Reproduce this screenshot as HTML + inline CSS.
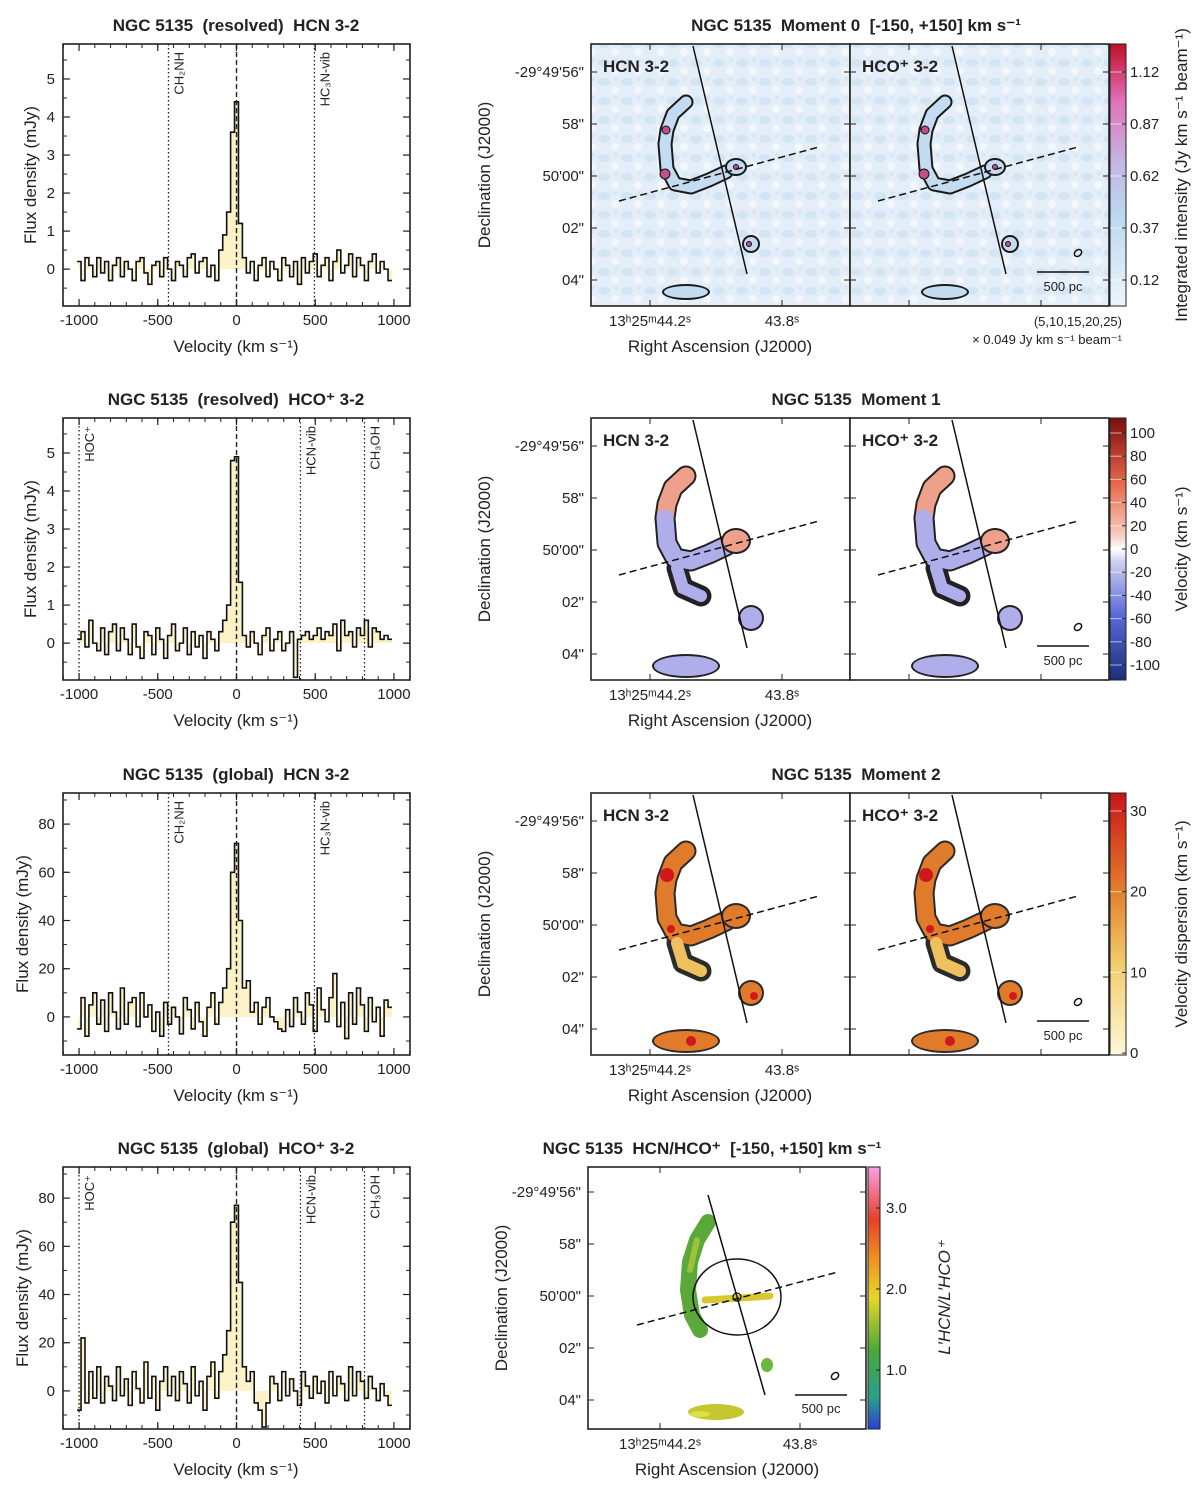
<!DOCTYPE html>
<html><head><meta charset="utf-8">
<style>
body{margin:0;background:#fff;}
svg text{font-family:"Liberation Sans",sans-serif;fill:#222;white-space:pre;}
</style></head>
<body>
<svg id="fig" width="1200" height="1482" xmlns="http://www.w3.org/2000/svg">
<defs>
<linearGradient id="gMom0" x1="0" y1="1" x2="0" y2="0">
<stop offset="0" stop-color="#eef5fb"/><stop offset="0.35" stop-color="#b9d8f0"/><stop offset="0.55" stop-color="#c4b5e6"/><stop offset="0.78" stop-color="#e073b8"/><stop offset="1" stop-color="#c0102a"/></linearGradient>
<linearGradient id="gMom1" x1="0" y1="1" x2="0" y2="0">
<stop offset="0" stop-color="#1a2f7a"/><stop offset="0.25" stop-color="#5a6bd8"/><stop offset="0.45" stop-color="#cfcdf1"/><stop offset="0.5" stop-color="#ffffff"/><stop offset="0.55" stop-color="#f6cfc3"/><stop offset="0.75" stop-color="#e8684a"/><stop offset="1" stop-color="#7a0d0d"/></linearGradient>
<linearGradient id="gMom2" x1="0" y1="1" x2="0" y2="0">
<stop offset="0" stop-color="#fdf8d8"/><stop offset="0.35" stop-color="#f2cc6c"/><stop offset="0.65" stop-color="#e2782a"/><stop offset="1" stop-color="#c8141a"/></linearGradient>
<linearGradient id="gRat" x1="0" y1="1" x2="0" y2="0">
<stop offset="0" stop-color="#2a3fd6"/><stop offset="0.12" stop-color="#2a9f8a"/><stop offset="0.3" stop-color="#4aa83a"/><stop offset="0.5" stop-color="#e6d62a"/><stop offset="0.65" stop-color="#f09020"/><stop offset="0.8" stop-color="#e8402a"/><stop offset="1" stop-color="#f7a0e0"/></linearGradient>
<pattern id="speck" width="23" height="19" patternUnits="userSpaceOnUse"><rect width="23" height="19" fill="#e4eef8"/><ellipse cx="6" cy="6" rx="6" ry="4" fill="#d3e4f3"/><circle cx="17" cy="14" r="4" fill="#f2f7fc"/><circle cx="18" cy="3" r="2" fill="#d8e7f5"/></pattern>
</defs>
</svg>
<script>
// ---------------- spectra data ----------------
const velStart = -1000, velStep = 25;
const specHCNres = [0.2,-0.3,0.3,0.1,-0.2,0.3,-0.1,0.2,-0.3,0.1,0.3,-0.2,0.2,0.0,-0.3,0.2,0.3,-0.1,-0.4,0.1,0.2,-0.2,0.3,0.0,-0.3,0.2,0.1,-0.2,0.3,0.4,-0.1,0.2,0.3,-0.2,0.1,-0.3,0.5,0.9,1.5,3.6,4.4,1.2,0.3,-0.1,0.2,-0.3,0.1,0.3,-0.2,0.2,0.0,-0.3,0.3,0.1,-0.2,0.2,-0.4,0.3,-0.1,0.2,0.4,-0.2,0.1,0.3,-0.3,0.2,0.5,-0.1,0.1,0.4,-0.2,0.3,0.1,-0.3,0.2,0.4,-0.1,0.2,0.0,-0.3];
const specHCOres = [0.1,0.3,-0.1,0.6,0.0,-0.2,0.4,-0.3,0.3,0.5,-0.2,0.4,0.1,-0.3,0.5,-0.1,-0.4,0.3,0.2,-0.3,0.4,0.1,-0.4,0.2,0.5,-0.2,0.0,0.4,-0.3,0.3,-0.1,0.2,-0.4,0.3,0.1,-0.2,0.3,0.6,1.0,4.8,4.9,1.6,0.2,-0.1,0.3,0.0,-0.3,0.2,0.4,-0.2,0.1,0.3,-0.2,0.0,0.3,-0.9,0.1,0.2,0.3,0.1,0.2,0.4,0.1,0.3,0.2,0.5,-0.2,0.6,0.2,0.3,-0.1,0.4,0.2,0.6,-0.1,0.4,0.3,0.1,0.2,0.1];
const specHCNglob = [-5,8,-8,5,10,-3,7,-6,10,2,-5,12,-3,6,8,-4,10,0,5,-6,2,-8,6,-3,4,0,-7,8,3,-5,6,-2,-8,4,10,-3,6,12,20,60,72,40,12,15,2,6,-3,4,8,0,-2,-5,-6,3,-4,8,2,-3,10,5,-6,12,3,-2,8,18,-4,6,-9,10,-3,12,5,-6,8,-2,4,-8,7,4];
const specHCOglob = [-8,22,-5,8,-3,10,-5,6,2,-4,10,-2,5,-6,8,1,-5,12,-3,6,-8,4,10,-2,6,-4,8,3,-5,10,-2,4,-8,6,12,-3,8,15,25,70,77,45,10,4,8,-5,-8,-15,-5,6,3,-4,8,-2,5,0,-6,8,2,-3,6,-1,4,-5,8,-2,6,3,-4,10,-2,8,4,-3,6,1,-4,3,-2,-6];
const spectra = [
 {title:"NGC 5135  (resolved)  HCN 3-2", top:44, ymin:-0.97, ymax:5.92, yticks:[0,1,2,3,4,5], minor:0.5, vals:specHCNres, lines:[[-432,"CH₂NH"],[495,"HC₃N-vib"]]},
 {title:"NGC 5135  (resolved)  HCO⁺ 3-2", top:418, ymin:-0.97, ymax:5.92, yticks:[0,1,2,3,4,5], minor:0.5, vals:specHCOres, lines:[[-1000,"HOC⁺"],[406,"HCN-vib"],[813,"CH₃OH"]]},
 {title:"NGC 5135  (global)  HCN 3-2", top:793, ymin:-15.8, ymax:92.9, yticks:[0,20,40,60,80], minor:10, vals:specHCNglob, lines:[[-432,"CH₂NH"],[495,"HC₃N-vib"]]},
 {title:"NGC 5135  (global)  HCO⁺ 3-2", top:1167, ymin:-15.8, ymax:92.9, yticks:[0,20,40,60,80], minor:10, vals:specHCOglob, lines:[[-1000,"HOC⁺"],[406,"HCN-vib"],[813,"CH₃OH"]]}
];
const xticksVel = [-1000,-500,0,500,1000];

const NS="http://www.w3.org/2000/svg";
const fig=document.getElementById('fig');
function el(tag,attrs,parent){const e=document.createElementNS(NS,tag);for(const k in attrs)e.setAttribute(k,attrs[k]);(parent||fig).appendChild(e);return e;}
function txt(s,x,y,attrs,parent){const t=el('text',Object.assign({x:x,y:y},attrs||{}),parent);t.textContent=s;return t;}

spectra.forEach((sp,i)=>{
  const g=el('g',{});
  
  
  const L=63,R=410,T=sp.top,B=sp.top+262;
  const xs=v=>L+(v+1102)/2204*(R-L);
  const ys=f=>B-(f-sp.ymin)/(sp.ymax-sp.ymin)*(B-T);
  let d='M'+xs(velStart)+','+ys(0);
  let line='';
  sp.vals.forEach((f,k)=>{const v0=velStart+k*velStep-velStep/2,v1=v0+velStep;
    d+=' L'+xs(v0)+','+ys(f)+' L'+xs(v1)+','+ys(f);
    line+=(k?' L':'M')+xs(v0)+','+ys(f)+' L'+xs(v1)+','+ys(f);});
  d+=' L'+xs(velStart+(sp.vals.length-0.5)*velStep)+','+ys(0)+' Z';
  const fp=el('path',{d:d,fill:'#fbf2c8',stroke:'none'},g);
  
  
  const lp=el('path',{d:line,fill:'none',stroke:'#111','stroke-width':1.6},g);
  
  
  el('line',{x1:xs(0),x2:xs(0),y1:T,y2:B,stroke:'#222','stroke-width':1.4,'stroke-dasharray':'5,3'},g);
  sp.lines.forEach(([v,lab])=>{
    const ln=el('line',{x1:xs(v),x2:xs(v),y1:T,y2:B,stroke:'#222','stroke-width':1.3,'stroke-dasharray':'1.5,2.5'},g);
    
    
    const t=txt(lab,xs(v)+15,T+8,{'font-size':13,transform:'rotate(-90 '+(xs(v)+15)+' '+(T+8)+')','text-anchor':'end'},g);
    
    
  });
  el('rect',{x:L,y:T,width:R-L,height:B-T,fill:'none',stroke:'#222','stroke-width':1.6},g);
  xticksVel.forEach(v=>{el('line',{x1:xs(v),x2:xs(v),y1:B,y2:B-7,stroke:'#222','stroke-width':1.2},g);
    el('line',{x1:xs(v),x2:xs(v),y1:T,y2:T+7,stroke:'#222','stroke-width':1.2},g);
    txt(v,xs(v),B+19,{'font-size':15,'text-anchor':'middle'},g);});
  for(let v=-1100;v<=1100;v+=100){el('line',{x1:xs(v),x2:xs(v),y1:B,y2:B-4,stroke:'#222'},g);el('line',{x1:xs(v),x2:xs(v),y1:T,y2:T+4,stroke:'#222'},g);}
  sp.yticks.forEach(f=>{el('line',{x1:L,x2:L+7,y1:ys(f),y2:ys(f),stroke:'#222','stroke-width':1.2},g);
    el('line',{x1:R,x2:R-7,y1:ys(f),y2:ys(f),stroke:'#222','stroke-width':1.2},g);
    txt(f,L-8,ys(f)+5,{'font-size':15,'text-anchor':'end'},g);});
  for(let f=Math.ceil(sp.ymin/sp.minor)*sp.minor;f<=sp.ymax;f+=sp.minor){el('line',{x1:L,x2:L+4,y1:ys(f),y2:ys(f),stroke:'#222'},g);el('line',{x1:R,x2:R-4,y1:ys(f),y2:ys(f),stroke:'#222'},g);}
  const tt=txt(sp.title,236,T-13,{'font-size':17,'font-weight':'bold','text-anchor':'middle'},g);
  
  
  txt('Velocity (km s⁻¹)',236,B+46,{'font-size':17,'text-anchor':'middle'},g);
  const yl=txt('Flux density (mJy)',0,0,{'font-size':17,'text-anchor':'middle',transform:'translate('+(i<2?36:28)+','+((T+B)/2)+') rotate(-90)'},g);
  
  
});

// ---------------- maps ----------------
function mapBlobs(g,ox,oy,type){
  const P=(x,y)=>(ox+x)+','+(oy+y);
  const sw = type==='mom0'?11:17;
  let edge, fillA, fillB;
  if(type==='mom0'){edge='#1a1a1a';fillA='#c4dcf1';fillB='#c9a0dc';}
  else if(type==='mom1'){edge='#222';fillA='#eea08a';fillB='#b0aeea';}
  else {edge='#2b2b2b';fillA='#e07b2b';fillB='#e9962f';}
  const arcU='M'+P(95,58)+' L'+P(82,70)+' L'+P(76,86)+' L'+P(74,100);
  const arcL='M'+P(74,100)+' L'+P(76,125)+' L'+P(84,140)+' L'+P(100,143)+' L'+P(118,136)+' L'+P(135,128);
  const ext = type==='mom0'?[]:['M'+P(86,150)+' L'+P(92,170)+' L'+P(110,178)];
  [arcU,arcL].concat(ext).forEach(d=>el('path',{d:d,fill:'none',stroke:edge,'stroke-width':sw+4,'stroke-linejoin':'round','stroke-linecap':'round'},g));
  el('path',{d:arcU,fill:'none',stroke:fillA,'stroke-width':sw,'stroke-linejoin':'round','stroke-linecap':'round'},g);
  el('path',{d:arcL,fill:'none',stroke:type==='mom1'?fillB:fillA,'stroke-width':sw,'stroke-linejoin':'round','stroke-linecap':'round'},g);
  ext.forEach(d=>el('path',{d:d,fill:'none',stroke:type==='mom1'?fillB:'#f0c060','stroke-width':sw-5,'stroke-linecap':'round'},g));
  const r = type==='mom0'?7:11;
  [[145,123,r+2,r],[160,200,r,r],[95,248,type==='mom0'?22:32,type==='mom0'?6:10]].forEach(([x,y,rx,ry],k)=>{
    el('ellipse',{cx:ox+x,cy:oy+y,rx:rx+2,ry:ry+2,fill:edge},g);
    el('ellipse',{cx:ox+x,cy:oy+y,rx:rx,ry:ry,fill:type==='mom1'?(k===0?fillA:fillB):fillA},g);
  });
  if(type==='mom2'){[[76,82,7],[80,136,4],[163,203,4],[100,248,5]].forEach(([x,y,rr])=>el('circle',{cx:ox+x,cy:oy+y,r:rr,fill:'#d0181c'},g));}
  if(type==='mom0'){[[75,86,4],[74,130,5],[145,123,2.5],[158,200,2.5]].forEach(([x,y,rr])=>el('circle',{cx:ox+x,cy:oy+y,r:rr,fill:'#c0508a',stroke:'#111'},g));}
  el('line',{x1:ox+102,y1:oy+2,x2:ox+156,y2:oy+230,stroke:'#111','stroke-width':1.5},g);
  el('line',{x1:ox+28,y1:oy+157,x2:ox+228,y2:oy+103,stroke:'#111','stroke-width':1.5,'stroke-dasharray':'7,4'},g);
}
const mapRows=[{top:44,type:'mom0',title:'NGC 5135  Moment 0  [-150, +150] km s⁻¹'},{top:418,type:'mom1',title:'NGC 5135  Moment 1'},{top:793,type:'mom2',title:'NGC 5135  Moment 2'}];
const decLabels=["-29°49'56\"","58\"","50'00\"","02\"","04\""];
const cbTicks0=["1.12","0.87","0.62","0.37","0.12"];
const cbTicks1=["100","80","60","40","20","0","-20","-40","-60","-80","-100"];
const cbTicks2=["30","20","10","0"];
mapRows.forEach((m,ri)=>{
  const g=el('g',{});
  
  
  const T=m.top,H=262;
  [591,850].forEach((ox,k)=>{
    const bg=el('rect',{x:ox,y:T,width:259,height:H,fill:m.type==='mom0'?'url(#speck)':'#fff'},g);
    
    
    mapBlobs(g,ox,T,m.type);
    txt(k?'HCO⁺ 3-2':'HCN 3-2',ox+12,T+28,{'font-size':17,'font-weight':'bold'},g);
    el('rect',{x:ox,y:T,width:259,height:H,fill:'none',stroke:'#222','stroke-width':1.6},g);
    for(let j=0;j<5;j++){const y=T+28+j*52;el('line',{x1:ox,x2:ox+6,y1:y,y2:y,stroke:'#222'},g);el('line',{x1:ox+259,x2:ox+253,y1:y,y2:y,stroke:'#222'},g);}
    [59,191].forEach(x=>{el('line',{x1:ox+x,x2:ox+x,y1:T+H,y2:T+H-6,stroke:'#222'},g);el('line',{x1:ox+x,x2:ox+x,y1:T,y2:T+6,stroke:'#222'},g);});
  });
  el('line',{x1:1037,x2:1089,y1:T+228,y2:T+228,stroke:'#111','stroke-width':1.5},g);
  txt('500 pc',1063,T+247,{'font-size':13,'text-anchor':'middle'},g);
  el('ellipse',{cx:1078,cy:T+209,rx:4,ry:3,fill:'none',stroke:'#111','stroke-width':1.5,transform:'rotate(-40 1078 '+(T+209)+')'},g);
  decLabels.forEach((s,j)=>txt(s,584,T+33+j*52,{'font-size':15,'text-anchor':'end'},g));
  txt('13ʰ25ᵐ44.2ˢ',650,T+H+20,{'font-size':15,'text-anchor':'middle'},g);
  txt('43.8ˢ',782,T+H+20,{'font-size':15,'text-anchor':'middle'},g);
  txt('Right Ascension (J2000)',720,T+H+46,{'font-size':17,'text-anchor':'middle'},g);
  txt('Declination (J2000)',0,0,{'font-size':17,'text-anchor':'middle',transform:'translate(490,'+(T+H/2)+') rotate(-90)'},g);
  const tt=txt(m.title,856,T-13,{'font-size':17,'font-weight':'bold','text-anchor':'middle'},g);
  
  
  const cb=el('rect',{x:1110,y:T,width:16,height:H,fill:'url(#g'+(ri===0?'Mom0':ri===1?'Mom1':'Mom2')+')',stroke:'#222'},g);
  
  
  let ticks,ty;
  if(ri===0){ticks=cbTicks0;ty=j=>T+28+j*52;}
  else if(ri===1){ticks=cbTicks1;ty=j=>T+15+j*23.2;}
  else {ticks=cbTicks2;ty=j=>T+18+j*80.7;}
  ticks.forEach((s,j)=>{el('line',{x1:1110,x2:1126,y1:ty(j),y2:ty(j),stroke:'#fff','stroke-opacity':0.6},g);
    el('line',{x1:1126,x2:1122,y1:ty(j),y2:ty(j),stroke:'#222'},g);txt(s,1130,ty(j)+5,{'font-size':15},g);});
  const lab=ri===0?'Integrated intensity (Jy km s⁻¹ beam⁻¹)':ri===1?'Velocity (km s⁻¹)':'Velocity dispersion (km s⁻¹)';
  txt(lab,0,0,{'font-size':17,'text-anchor':'middle',transform:'translate(1187,'+(T+H/2)+') rotate(-90)'},g);
  if(ri===0){txt('(5,10,15,20,25)',1122,T+H+20,{'font-size':13,'text-anchor':'end'},g);
    txt('× 0.049 Jy km s⁻¹ beam⁻¹',1122,T+H+38,{'font-size':13,'text-anchor':'end'},g);}
});

// ---------------- ratio map ----------------
const ratioTicks=["3.0","2.0","1.0"];
(function(){
  const g=el('g',{});
  
  
  const L=588,T=1167,W=278,H=262;
  el('rect',{x:L,y:T,width:W,height:H,fill:'#fff'},g);
  const arc='M708,1222 L697,1240 L690,1262 L688,1290 L692,1315 L700,1330';
  el('path',{d:arc,fill:'none',stroke:'#5aa83a','stroke-width':16,'stroke-linejoin':'round','stroke-linecap':'round'},g);
  el('path',{d:'M697,1240 L690,1270',fill:'none',stroke:'#9cc23a','stroke-width':6,'stroke-linecap':'round'},g);
  el('path',{d:'M705,1300 L740,1298 L770,1296',fill:'none',stroke:'#d8c830','stroke-width':7,'stroke-linecap':'round'},g);
  el('ellipse',{cx:767,cy:1365,rx:6,ry:7,fill:'#6ab83a'},g);
  el('ellipse',{cx:716,cy:1412,rx:28,ry:8,fill:'#c6c632'},g);
  el('ellipse',{cx:700,cy:1414,rx:10,ry:3,fill:'#e0e040'},g);
  el('line',{x1:708,y1:1195,x2:765,y2:1395,stroke:'#111','stroke-width':1.5},g);
  el('line',{x1:637,y1:1325,x2:838,y2:1272,stroke:'#111','stroke-width':1.5,'stroke-dasharray':'7,4'},g);
  el('ellipse',{cx:737,cy:1297,rx:44,ry:38,fill:'none',stroke:'#111','stroke-width':1.5},g);
  el('circle',{cx:737,cy:1297,r:4,fill:'none',stroke:'#111','stroke-width':1.3},g);
  el('line',{x1:795,x2:847,y1:1395,y2:1395,stroke:'#111','stroke-width':1.5},g);
  txt('500 pc',821,1413,{'font-size':13,'text-anchor':'middle'},g);
  el('ellipse',{cx:835,cy:1376,rx:4,ry:3,fill:'none',stroke:'#111','stroke-width':1.5,transform:'rotate(-40 835 1376)'},g);
  el('rect',{x:L,y:T,width:W,height:H,fill:'none',stroke:'#222','stroke-width':1.6},g);
  decLabels.forEach((s,j)=>{const y=1192+j*52;txt(s,581,y+5,{'font-size':15,'text-anchor':'end'},g);
    el('line',{x1:L,x2:L+6,y1:y,y2:y,stroke:'#222'},g);el('line',{x1:L+W,x2:L+W-6,y1:y,y2:y,stroke:'#222'},g);});
  [660,800].forEach(x=>{el('line',{x1:x,x2:x,y1:T+H,y2:T+H-6,stroke:'#222'},g);el('line',{x1:x,x2:x,y1:T,y2:T+6,stroke:'#222'},g);});
  txt('13ʰ25ᵐ44.2ˢ',660,T+H+20,{'font-size':15,'text-anchor':'middle'},g);
  txt('43.8ˢ',800,T+H+20,{'font-size':15,'text-anchor':'middle'},g);
  txt('Right Ascension (J2000)',727,T+H+46,{'font-size':17,'text-anchor':'middle'},g);
  txt('Declination (J2000)',0,0,{'font-size':17,'text-anchor':'middle',transform:'translate(507,'+(T+H/2)+') rotate(-90)'},g);
  const tt=txt('NGC 5135  HCN/HCO⁺  [-150, +150] km s⁻¹',712,T-13,{'font-size':17,'font-weight':'bold','text-anchor':'middle'},g);
  
  
  const cb=el('rect',{x:868,y:T,width:12,height:H,fill:'url(#gRat)',stroke:'#222'},g);
  
  
  ratioTicks.forEach((s,j)=>{const y=1208+j*81;el('line',{x1:880,x2:876,y1:y,y2:y,stroke:'#222'},g);txt(s,886,y+5,{'font-size':15},g);});
  txt("L′HCN/L′HCO⁺",0,0,{'font-size':17,'font-style':'italic','text-anchor':'middle',transform:'translate(950,1298) rotate(-90)'},g);
})();
</script>
</body></html>
